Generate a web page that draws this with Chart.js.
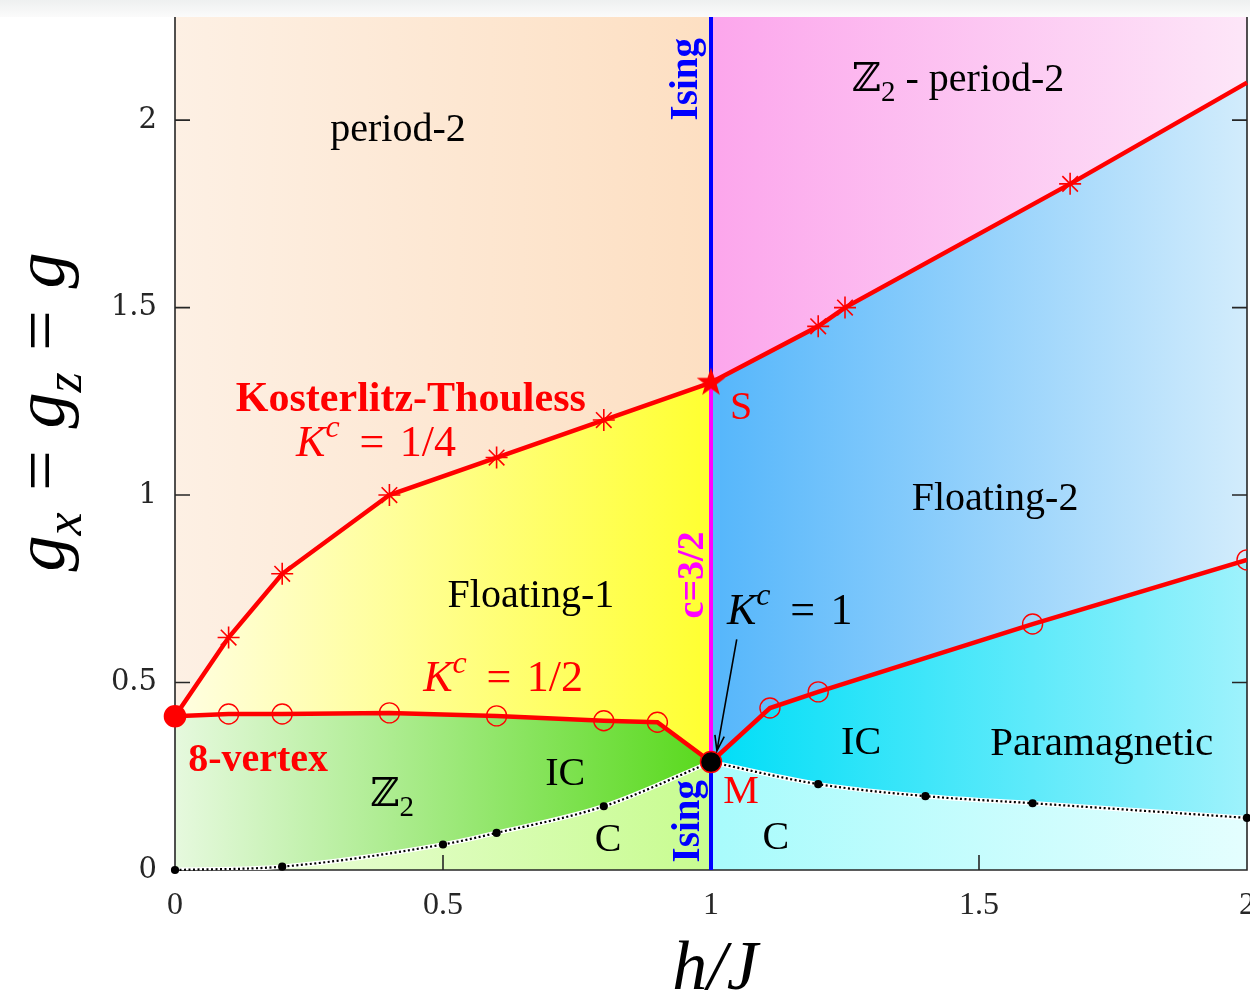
<!DOCTYPE html>
<html>
<head>
<meta charset="utf-8">
<script src="https://cdn.jsdelivr.net/npm/chart.js@4.4.1/dist/chart.umd.min.js"></script>
<style>
  html, body { margin: 0; padding: 0; background: #fff; }
  #wrap { width: 1250px; height: 1003px; }
</style>
</head>
<body>
<div id="wrap"><canvas id="diagrama" width="1250" height="1003"></canvas></div>
<script>
// Linhas de transição (h/J, g)
const ktLeftH = [0, 0.1, 0.2, 0.4, 0.6, 0.8, 1.0];
const ktLeftG = [0.41, 0.62, 0.79, 1.0, 1.1, 1.2, 1.3];
const ktRightH = [1.0, 1.2, 1.25, 1.67, 2.0];
const ktRightG = [1.3, 1.45, 1.5, 1.83, 2.1];
const halfH = [0, 0.1, 0.2, 0.4, 0.6, 0.8, 0.9, 1.0];
const halfG = [0.41, 0.416, 0.416, 0.419, 0.411, 0.398, 0.394, 0.288];
const oneH = [1.0, 1.11, 1.2, 1.6, 2.0];
const oneG = [0.288, 0.432, 0.475, 0.656, 0.827];
const dotLeftH = [0, 0.2, 0.5, 0.6, 0.8, 1.0];
const dotLeftG = [0, 0.009, 0.068, 0.099, 0.17, 0.288];
const dotRightH = [1.0, 1.2, 1.4, 1.6, 2.0];
const dotRightG = [0.288, 0.229, 0.197, 0.178, 0.139];

const xTicks = [0, 0.5, 1, 1.5, 2];
const yTicks = [0, 0.5, 1, 1.5, 2];
const gMax = 2.275;

const RED = '#ff0000';
const SERIF = "'Liberation Serif', 'DejaVu Serif', serif";

const pts = (hs, gs) => hs.map((h, i) => ({ x: h, y: gs[i] }));

// degradê horizontal entre h0 e h1
function grad(h0, h1, c0, c1) {
    return (ctx) => {
        const chart = ctx.chart;
        const xs = chart.scales.x;
        if (!chart.chartArea || !xs) return c1;
        const g = chart.ctx.createLinearGradient(xs.getPixelForValue(h0), 0, xs.getPixelForValue(h1), 0);
        g.addColorStop(0, c0);
        g.addColorStop(1, c1);
        return g;
    };
}

// região preenchida (sem linha)
function area(data, fill, bg, order, tension) {
    return {
        data: data, fill: fill, backgroundColor: bg,
        borderWidth: 0, borderColor: 'rgba(0,0,0,0)', pointRadius: 0,
        cubicInterpolationMode: tension ? 'monotone' : 'default',
        order: order, clip: 0
    };
}

// estrela cheia (ponto S)
function makeStar(r, color) {
    const c = document.createElement('canvas');
    const s = Math.ceil(r * 2 + 4);
    c.width = s; c.height = s;
    const g = c.getContext('2d');
    g.translate(s / 2, s / 2);
    g.beginPath();
    for (let i = 0; i < 10; i++) {
        const rr = i % 2 ? r * 0.4 : r;
        const a = -Math.PI / 2 + i * Math.PI / 5;
        g.lineTo(rr * Math.cos(a), rr * Math.sin(a));
    }
    g.closePath();
    g.fillStyle = color;
    g.fill();
    return c;
}
const starS = makeStar(15, RED);

// textos do diagrama: [texto, tipo]; 'gap' = espaço em em
const labels = [
    { h: 0.416, g: 1.979, size: 40, color: '#000', parts: [['period-2', 'n']] },
    { h: 1.461, g: 2.112, size: 40, color: '#000', parts: [['ℤ', 'n'], ['2', 'sub'], [' - period-2', 'n']] },
    { h: 0.440, g: 1.261, size: 42, color: RED, parts: [['Kosterlitz-Thouless', 'b']] },
    { h: 0.375, g: 1.144, size: 44, color: RED, parts: [['K', 'i'], ['c', 'sup'], [0.45, 'gap'], ['=', 'n'], [0.35, 'gap'], ['1/4', 'n']] },
    { h: 1.056, g: 1.237, size: 40, color: RED, parts: [['S', 'n']] },
    { h: 1.530, g: 0.995, size: 40, color: '#000', parts: [['Floating-2', 'n']] },
    { h: 0.664, g: 0.736, size: 40, color: '#000', parts: [['Floating-1', 'n']] },
    { h: 1.147, g: 0.696, size: 44, color: '#000', parts: [['K', 'i'], ['c', 'sup'], [0.45, 'gap'], ['=', 'n'], [0.35, 'gap'], ['1', 'n']] },
    { h: 0.612, g: 0.515, size: 44, color: RED, parts: [['K', 'i'], ['c', 'sup'], [0.45, 'gap'], ['=', 'n'], [0.35, 'gap'], ['1/2', 'n']] },
    { h: 0.155, g: 0.299, size: 40, color: RED, parts: [['8-vertex', 'b']] },
    { h: 0.728, g: 0.261, size: 40, color: '#000', parts: [['IC', 'n']] },
    { h: 0.405, g: 0.205, size: 40, color: '#000', parts: [['ℤ', 'n'], ['2', 'sub']] },
    { h: 1.280, g: 0.344, size: 40, color: '#000', parts: [['IC', 'n']] },
    { h: 1.729, g: 0.344, size: 41, color: '#000', parts: [['Paramagnetic', 'n']] },
    { h: 1.056, g: 0.213, size: 40, color: RED, parts: [['M', 'n']] },
    { h: 0.808, g: 0.085, size: 40, color: '#000', parts: [['C', 'n']] },
    { h: 1.121, g: 0.091, size: 40, color: '#000', parts: [['C', 'n']] },
    { h: 0.950, g: 2.109, size: 39, color: '#0000ff', rot: true, parts: [['Ising', 'b']] },
    { h: 0.953, g: 0.130, size: 39, color: '#0000ff', rot: true, parts: [['Ising', 'b']] },
    { h: 0.961, g: 0.787, size: 38, color: '#ff00ff', rot: true, parts: [['c=3/2', 'b']] }
];

function partFont(kind, size) {
    if (kind === 'b') return 'bold ' + size + 'px ' + SERIF;
    if (kind === 'i') return 'italic ' + size + 'px ' + SERIF;
    if (kind === 'sup' || kind === 'isub') return 'italic ' + Math.round(size * 0.72) + 'px ' + SERIF;
    if (kind === 'sub') return Math.round(size * 0.72) + 'px ' + SERIF;
    return size + 'px ' + SERIF;
}

function partWidth(ctx, p, size) {
    if (p[1] === 'gap') return p[0] * size;
    ctx.font = partFont(p[1], size);
    return ctx.measureText(p[0]).width;
}

// texto com sobrescrito/subscrito, centrado em (x, y)
function drawRich(ctx, parts, x, y, size, color, rot) {
    ctx.save();
    ctx.translate(x, y);
    if (rot) ctx.rotate(-Math.PI / 2);
    let w = 0;
    parts.forEach(p => { w += partWidth(ctx, p, size); });
    let cx = -w / 2;
    ctx.fillStyle = color;
    ctx.textBaseline = 'alphabetic';
    ctx.textAlign = 'left';
    const base = size * 0.33;
    parts.forEach(p => {
        if (p[1] !== 'gap') {
            ctx.font = partFont(p[1], size);
            let dy = 0;
            if (p[1] === 'sup') dy = -size * 0.42;
            if (p[1] === 'sub' || p[1] === 'isub') dy = size * 0.24;
            ctx.fillText(p[0], cx, base + dy);
        }
        cx += partWidth(ctx, p, size);
    });
    ctx.restore();
}

const decor = {
    id: 'decor',
    beforeDraw(chart) {
        const c = chart.ctx;
        c.save();
        c.fillStyle = '#fff';
        c.fillRect(0, 0, chart.width, chart.height);
        const band = c.createLinearGradient(0, 0, 0, 17);
        band.addColorStop(0, '#eef0f0');
        band.addColorStop(1, '#fbfbfb');
        c.fillStyle = band;
        c.fillRect(0, 0, chart.width, 17);
        c.restore();
    },
    beforeDatasetsDraw(chart) {
        const c = chart.ctx;
        const a = chart.chartArea;
        const xs = chart.scales.x, ys = chart.scales.y;
        c.save();
        c.strokeStyle = '#262626';
        c.lineWidth = 1.6;
        c.beginPath();
        c.moveTo(a.left, a.top); c.lineTo(a.left, a.bottom); c.lineTo(a.right, a.bottom); c.lineTo(a.right, a.top);
        yTicks.forEach(v => {
            const y = ys.getPixelForValue(v);
            c.moveTo(a.left, y); c.lineTo(a.left + 15, y);
            c.moveTo(a.right, y); c.lineTo(a.right - 15, y);
        });
        xTicks.forEach(v => {
            const x = xs.getPixelForValue(v);
            c.moveTo(x, a.bottom); c.lineTo(x, a.bottom - 15);
        });
        c.stroke();
        // rótulos do eixo x
        c.fillStyle = '#262626';
        c.font = '32px ' + SERIF;
        c.textAlign = 'center';
        c.textBaseline = 'middle';
        xTicks.forEach(v => c.fillText(String(v), xs.getPixelForValue(v), a.bottom + 36));
        c.restore();
    },
    afterDatasetsDraw(chart) {
        const c = chart.ctx;
        const xs = chart.scales.x, ys = chart.scales.y;
        // seta para o ponto M
        const x0 = xs.getPixelForValue(1.048), y0 = ys.getPixelForValue(0.615);
        const x1 = xs.getPixelForValue(1.011), y1 = ys.getPixelForValue(0.318);
        const ang = Math.atan2(y1 - y0, x1 - x0);
        c.save();
        c.strokeStyle = '#000';
        c.lineWidth = 1.6;
        c.beginPath();
        c.moveTo(x0, y0); c.lineTo(x1, y1);
        c.moveTo(x1 - 16 * Math.cos(ang - 0.3), y1 - 16 * Math.sin(ang - 0.3));
        c.lineTo(x1, y1);
        c.lineTo(x1 - 16 * Math.cos(ang + 0.3), y1 - 16 * Math.sin(ang + 0.3));
        c.stroke();
        c.restore();
        labels.forEach(l => {
            drawRich(c, l.parts, xs.getPixelForValue(l.h), ys.getPixelForValue(l.g), l.size, l.color, l.rot);
        });
    },
    afterDraw(chart) {
        const c = chart.ctx;
        drawRich(c, [['h/J', 'i']], 715, 966, 70, '#000', false);
        drawRich(c, [['g', 'i'], ['x', 'isub'], [0.3, 'gap'], ['=', 'n'], [0.3, 'gap'], ['g', 'i'], ['z', 'isub'], [0.3, 'gap'], ['=', 'n'], [0.3, 'gap'], ['g', 'i']],
            40, 412, 72, '#000', true);
    }
};

const ktLeftN = ktLeftH.length;
const halfN = halfH.length;

const datasets = [
    // marcadores e linhas vermelhas (ficam por cima)
    {
        data: pts(halfH, halfG), borderColor: RED, borderWidth: 4.5, fill: false, order: 1, clip: false,
        pointStyle: 'circle',
        pointRadius: halfH.map((h, i) => i === 0 ? 0 : (i === halfN - 1 ? 10.5 : 10)),
        pointBackgroundColor: halfH.map((h, i) => i === halfN - 1 ? '#000' : 'rgba(0,0,0,0)'),
        pointBorderColor: RED, pointBorderWidth: 1.4
    },
    {
        data: pts(oneH, oneG), borderColor: RED, borderWidth: 4.5, fill: false, order: 2, clip: 0,
        pointStyle: 'circle',
        pointRadius: oneH.map((h, i) => i === 0 ? 0 : 10),
        pointBackgroundColor: 'rgba(0,0,0,0)', pointBorderColor: RED, pointBorderWidth: 1.4
    },
    {
        data: pts(ktLeftH, ktLeftG), borderColor: RED, borderWidth: 4.5, fill: false, order: 1, clip: false,
        pointStyle: ktLeftH.map((h, i) => i === 0 ? 'circle' : (i === ktLeftN - 1 ? starS : 'star')),
        pointRadius: ktLeftH.map((h, i) => i === 0 ? 10.5 : 11),
        pointBackgroundColor: RED, pointBorderColor: RED, pointBorderWidth: 1.6
    },
    {
        data: pts(ktRightH, ktRightG), borderColor: RED, borderWidth: 4.5, fill: false, order: 2, clip: false,
        pointStyle: 'star',
        pointRadius: ktRightH.map((h, i) => (i === 0 || i === ktRightH.length - 1) ? 0 : 11),
        pointBorderColor: RED, pointBorderWidth: 1.6
    },
    // linhas pontilhadas (crossover C / IC)
    {
        data: pts(dotLeftH, dotLeftG), borderColor: '#000', borderWidth: 2.2, borderDash: [2, 2.5],
        cubicInterpolationMode: 'monotone', fill: false, order: 4, clip: false,
        pointRadius: dotLeftH.map((h, i) => i === dotLeftH.length - 1 ? 0 : 3),
        pointBackgroundColor: '#000', pointBorderColor: '#000'
    },
    {
        data: pts(dotRightH, dotRightG), borderColor: '#000', borderWidth: 2.2, borderDash: [2, 2.5],
        cubicInterpolationMode: 'monotone', fill: false, order: 4, clip: false,
        pointRadius: dotRightH.map((h, i) => i === 0 ? 0 : 3),
        pointBackgroundColor: '#000', pointBorderColor: '#000'
    },
    {
        data: pts(dotLeftH, dotLeftG), borderColor: '#fff', borderWidth: 4.5,
        cubicInterpolationMode: 'monotone', fill: false, order: 5, pointRadius: 0
    },
    {
        data: pts(dotRightH, dotRightG), borderColor: '#fff', borderWidth: 4.5,
        cubicInterpolationMode: 'monotone', fill: false, order: 5, pointRadius: 0
    },
    // linhas verticais em h/J = 1
    {
        data: [{ x: 1, y: ktLeftG[ktLeftN - 1] }, { x: 1, y: gMax }], borderColor: '#0000ff', borderWidth: 4,
        fill: false, order: 6, pointRadius: 0
    },
    {
        data: [{ x: 1, y: halfG[halfN - 1] }, { x: 1, y: ktLeftG[ktLeftN - 1] }], borderColor: '#ff00ff', borderWidth: 4,
        fill: false, order: 6, pointRadius: 0
    },
    {
        data: [{ x: 1, y: 0 }, { x: 1, y: halfG[halfN - 1] }], borderColor: '#0000ff', borderWidth: 4,
        fill: false, order: 6, pointRadius: 0
    },
    // regiões de fase (desenhadas por baixo, ordem maior primeiro)
    area(pts(ktLeftH, ktLeftG), 'end', grad(0, 1, '#fdf0e4', '#fddfc2'), 20),
    area(pts(ktRightH, ktRightG), 'end', grad(1, 2, '#fca6ec', '#fde6f8'), 20),
    area(pts(ktLeftH, ktLeftG), 'start', grad(0, 1, '#fffee2', '#ffff30'), 19),
    area(pts(ktRightH, ktRightG), 'start', grad(1, 2, '#55b6fb', '#d2ecfc'), 19),
    area(pts(halfH, halfG), 'start', grad(0, 1, '#e6f9de', '#58d91c'), 18),
    area(pts(oneH, oneG), 'start', grad(1, 2, '#00def7', '#9ef2fc'), 18),
    area(pts(dotLeftH, dotLeftG), 'start', grad(0, 1, '#f0fde6', '#c8fc90'), 17, true),
    area(pts(dotRightH, dotRightG), 'start', grad(1, 2, '#a8fbfc', '#e4fefe'), 17, true)
];

new Chart(document.getElementById('diagrama').getContext('2d'), {
    type: 'line',
    data: { datasets: datasets },
    options: {
        responsive: false,
        animation: false,
        layout: { autoPadding: false, padding: { left: 0, top: 17, right: 3, bottom: 0 } },
        plugins: {
            legend: { display: false },
            tooltip: { enabled: false },
            filler: { drawTime: 'beforeDatasetsDraw' }
        },
        scales: {
            x: {
                type: 'linear', min: 0, max: 2,
                afterBuildTicks: s => { s.ticks = xTicks.map(v => ({ value: v })); },
                afterFit: s => { s.height = 133; },
                grid: { display: false, drawTicks: false },
                border: { display: false },
                ticks: { display: false }
            },
            y: {
                type: 'linear', min: 0, max: gMax,
                afterBuildTicks: s => { s.ticks = yTicks.map(v => ({ value: v })); },
                afterFit: s => { s.width = 175; s.paddingTop = 0; s.paddingBottom = 0; },
                grid: { display: false, drawTicks: false },
                border: { display: false },
                ticks: {
                    color: '#262626', padding: 18,
                    font: { family: "'DejaVu Serif', serif", size: 29 },
                    callback: v => String(v)
                }
            }
        }
    },
    plugins: [decor]
});
</script>
</body>
</html>
